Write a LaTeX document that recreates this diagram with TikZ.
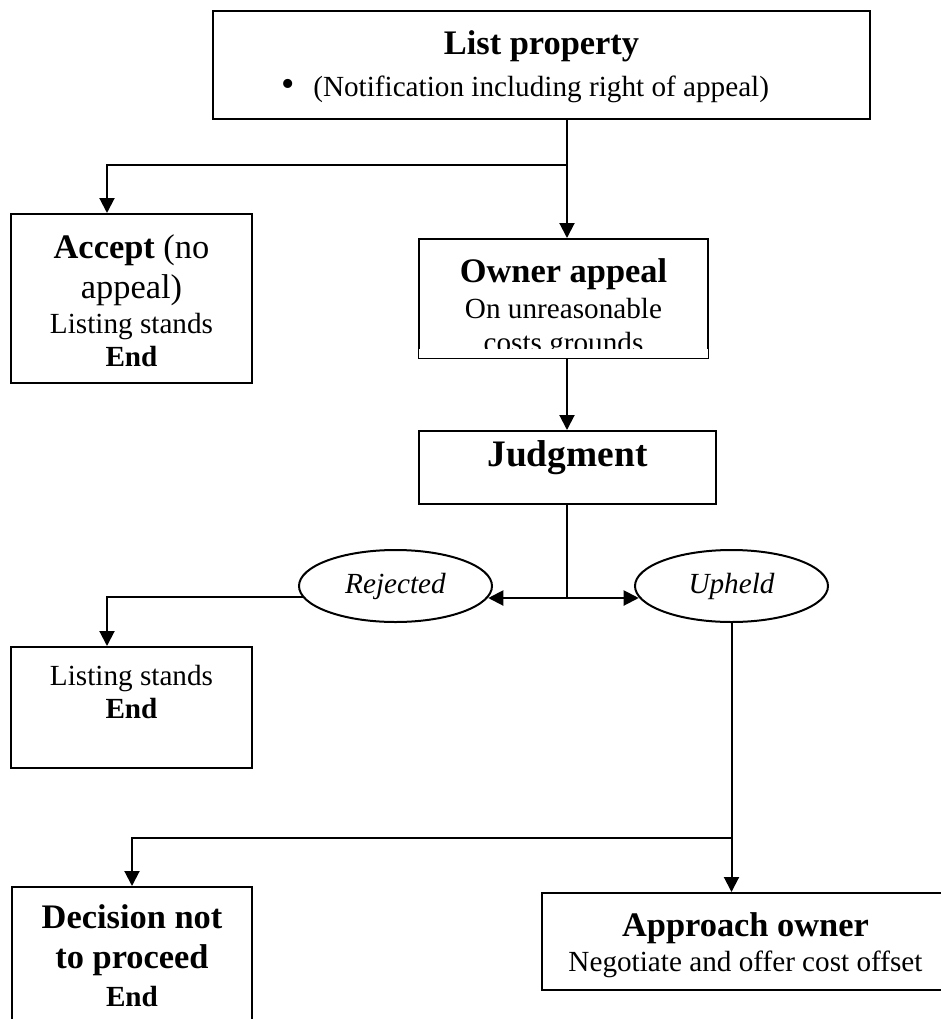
\documentclass[tikz,border=0pt]{standalone}
\usepackage{fontspec}
\setmainfont{Liberation Serif}
\usepackage{tikz}
\usetikzlibrary{arrows.meta, shapes.geometric, calc, positioning}
\newcommand{\headsize}{\fontsize{17.2}{20}\selectfont}
\tikzset{
  flow arrow/.style={-{Triangle[length=7.5pt,width=7.5pt]}, line width=1pt},
  flow line/.style={line width=1pt},
}

\begin{document}
\begin{tikzpicture}[x=0.5pt, y=-0.5pt,
    stage/.style={draw, line width=1pt, align=center, inner sep=0pt, anchor=north},
    verdict/.style={draw, ellipse, line width=1pt, inner sep=0pt,
                    minimum width=96.5pt, minimum height=36pt,
                    font=\fontsize{14.6}{17}\selectfont\itshape}]
  \useasboundingbox (0,0) rectangle (941,1019);
  \clip (0,0) rectangle (941,1019);
  % Nodes
  \node[stage, minimum width=328.5pt, text height=42.5pt, text depth=11.5pt,
        font=\fontsize{14.6}{21}\selectfont] (list) at (541.5,10)
    {{\headsize\bfseries List property}\\
     {\fontsize{19}{19}\selectfont\textbullet}\hspace{9pt}(Notification including right of appeal)\hspace*{16pt}};
  \node[stage, minimum width=120.5pt, text height=76pt, text depth=8.5pt,
        font=\fontsize{14.6}{16.5}\selectfont] (accept) at (131.5,213)
    {{\headsize\textbf{Accept} (no}\\[3.5pt] {\headsize appeal)}\\[1pt] Listing stands\\ \textbf{End}};
  \node[stage, minimum width=144.5pt, text height=56.5pt, text depth=3pt,
        font=\fontsize{14.6}{17}\selectfont] (appeal) at (563.5,238)
    {{\headsize\bfseries Owner appeal}\\[1pt] On unreasonable\\ costs grounds};
  \node[stage, minimum width=148.5pt, text height=17.5pt, text depth=19pt] (judgment) at (567.5,430)
    {{\fontsize{18.7}{21}\selectfont\bfseries Judgment}};
  \node[verdict] (rejected) at (395.5,586) {Rejected};
  \node[verdict] (upheld)   at (731.5,586) {Upheld};
  \node[stage, minimum width=120.5pt, text height=35.5pt, text depth=25pt,
        font=\fontsize{14.6}{16.5}\selectfont] (stands) at (131.5,646)
    {Listing stands\\ \textbf{End}};
  \node[stage, minimum width=120pt, text height=59.5pt, text depth=17.5pt,
        font=\fontsize{14.6}{19}\selectfont] (decision) at (132,886)
    {{\headsize\bfseries Decision not}\\[1pt] {\headsize\bfseries to proceed}\\ \textbf{End}};
  \node[stage, minimum width=203.5pt, text height=39pt, text depth=9.5pt,
        font=\fontsize{14.6}{17.5}\selectfont] (approach) at (745.5,892)
    {{\headsize\bfseries Approach owner}\\ Negotiate and offer cost offset};
  % text box cuts off the last line
  \fill[white] ([xshift=0.5pt,yshift=0.5pt]appeal.south west) rectangle ([xshift=-0.5pt,yshift=5pt]appeal.south east);
  % Arrows
  \coordinate (fork1) at (567,165);
  \coordinate (fork2) at (567,598);
  \coordinate (fork3) at (731.5,838);
  \draw[flow line]  (list.south -| fork1) -- (fork1);
  \draw[flow arrow] (fork1) -- (fork1 |- appeal.north);
  \draw[flow arrow] (fork1) -| ([xshift=-12.25pt]accept.north);
  \draw[flow arrow] (appeal.south -| fork1) -- (fork1 |- judgment.north);
  \draw[flow line]  (judgment.south -| fork2) -- (fork2);
  \draw[flow arrow] (fork2) -- (fork2 -| rejected.353);
  \draw[flow arrow] (fork2) -- (fork2 -| upheld.187);
  \draw[flow arrow] (rejected.187) -| ([xshift=-12.25pt]stands.north);
  \draw[flow line]  (upheld.south) -- (fork3);
  \draw[flow arrow] (fork3) -- (fork3 |- approach.north);
  \draw[flow arrow] (fork3) -| (decision.north);
\end{tikzpicture}
\end{document}
